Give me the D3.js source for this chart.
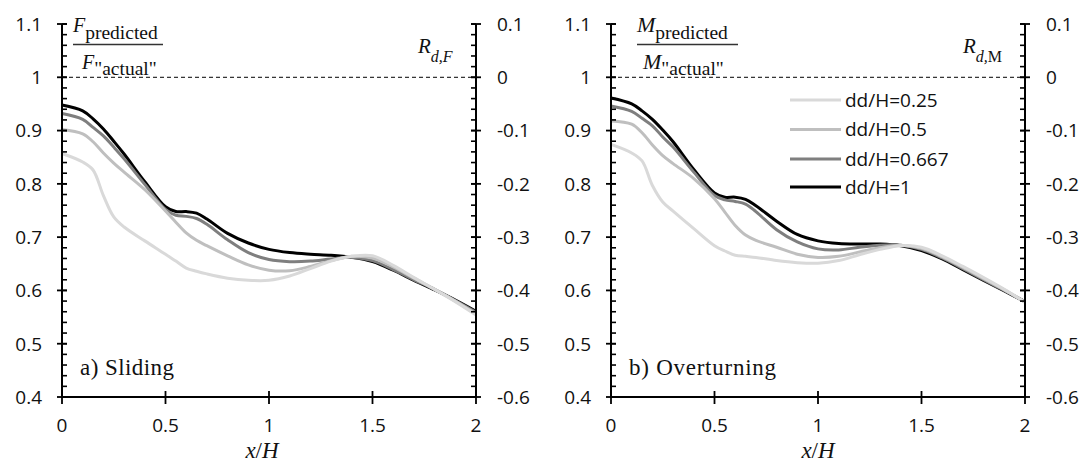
<!DOCTYPE html>
<html><head><meta charset="utf-8">
<script src="https://cdn.jsdelivr.net/npm/d3@7"></script>
<style>
html,body{margin:0;padding:0;background:#fff;}
svg{display:block;}
.num{font-family:"Open Sans",sans-serif;font-size:19px;fill:#111;}
.serif{font-family:"Liberation Serif","Times New Roman",serif;fill:#111;}
</style></head>
<body><svg id="c" width="1087" height="466"></svg>
<script>
// ---------- data ----------
const xVals = [0,0.1,0.15,0.2,0.25,0.3,0.4,0.5,0.55,0.6,0.65,0.7,0.8,0.9,1.0,1.1,1.2,1.3,1.4,1.5,1.6,1.7,1.8,1.9,2.0];
const seriesNames = ["dd/H=0.25","dd/H=0.5","dd/H=0.667","dd/H=1"];
const seriesColors = ["#d9d9d9","#bfbfbf","#7f7f7f","#000000"];

// a) Sliding
const slide025 = [0.857,0.841,0.826,0.778,0.738,0.719,0.693,0.668,0.655,0.642,0.636,0.631,0.623,0.619,0.619,0.627,0.641,0.655,0.664,0.665,0.647,0.624,0.602,0.579,0.554];
const slide05  = [0.902,0.894,0.879,0.858,0.839,0.822,0.789,0.749,0.728,0.708,0.694,0.684,0.665,0.648,0.638,0.637,0.645,0.656,0.664,0.661,0.644,0.623,0.602,0.580,0.556];
const slide0667= [0.932,0.921,0.906,0.890,0.869,0.847,0.799,0.752,0.741,0.739,0.735,0.724,0.695,0.671,0.658,0.654,0.655,0.659,0.662,0.656,0.639,0.620,0.602,0.581,0.559];
const slide1   = [0.948,0.937,0.922,0.903,0.880,0.856,0.804,0.757,0.748,0.748,0.745,0.734,0.707,0.689,0.677,0.671,0.668,0.666,0.662,0.654,0.638,0.619,0.601,0.582,0.561];

// b) Overturning
const over025 = [0.874,0.858,0.843,0.797,0.766,0.749,0.716,0.684,0.674,0.666,0.664,0.662,0.656,0.652,0.651,0.656,0.667,0.677,0.684,0.681,0.665,0.645,0.624,0.602,0.578];
const over05  = [0.918,0.912,0.896,0.873,0.853,0.838,0.810,0.772,0.747,0.722,0.704,0.694,0.681,0.668,0.662,0.664,0.672,0.680,0.685,0.679,0.663,0.643,0.622,0.601,0.578];
const over0667= [0.946,0.936,0.923,0.909,0.888,0.869,0.822,0.778,0.770,0.767,0.762,0.748,0.714,0.691,0.678,0.676,0.681,0.685,0.685,0.677,0.661,0.641,0.620,0.600,0.579];
const over1   = [0.961,0.950,0.937,0.921,0.901,0.879,0.827,0.783,0.775,0.775,0.771,0.759,0.730,0.705,0.693,0.688,0.687,0.687,0.684,0.675,0.659,0.639,0.619,0.599,0.579];

const xTicks = [0,0.5,1,1.5,2];
const xTickLabels = ["0","0.5","1","1.5","2"];
const yTicks = [0.4,0.5,0.6,0.7,0.8,0.9,1.0,1.1];
const yTickLabels = ["0.4","0.5","0.6","0.7","0.8","0.9","1","1.1"];
const y2Ticks = [-0.6,-0.5,-0.4,-0.3,-0.2,-0.1,0,0.1];
const y2TickLabels = ["-0.6","-0.5","-0.4","-0.3","-0.2","-0.1","0","0.1"];
const panelLabels = ["a) Sliding","b) Overturning"];

// ---------- drawing ----------
const svg = d3.select("#c");
svg.append("rect").attr("width",1087).attr("height",466).attr("fill","#fff");

const panels = [
  {x0:62, sym:"F", rsub:"F", rsubItalic:true, data:[slide025,slide05,slide0667,slide1], label:panelLabels[0], labelLen:94, xLabelX:262},
  {x0:611, sym:"M", rsub:"M", rsubItalic:false, data:[over025,over05,over0667,over1], label:panelLabels[1], labelLen:147, xLabelX:818}
];
const PW = 414, PTOP = 24, PBOT = 397;

panels.forEach((p,pi)=>{
  const g = svg.append("g");
  const x = d3.scaleLinear().domain([0,2]).range([p.x0, p.x0+PW]);
  const y = d3.scaleLinear().domain([0.4,1.1]).range([PBOT, PTOP]);
  const y2 = d3.scaleLinear().domain([-0.6,0.1]).range([PBOT, PTOP]);
  const xr = p.x0 + PW;

  // dashed reference line at 1
  g.append("line").attr("x1",x(0)).attr("x2",xr).attr("y1",y(1)).attr("y2",y(1))
    .attr("stroke","#000").attr("stroke-width",1).attr("stroke-dasharray","4,3");

  // series (light drawn last)
  const line = d3.line().x((d,i)=>x(xVals[i])).y(d=>y(d)).curve(d3.curveCatmullRom.alpha(0.5));
  [3,2,1,0].forEach(si=>{
    g.append("path").attr("d",line(p.data[si])).attr("fill","none")
      .attr("stroke",seriesColors[si]).attr("stroke-width",3).attr("stroke-linejoin","round");
  });

  // minor ticks
  const minor = d3.range(0.4,1.1001,0.02).map(v=>+v.toFixed(2));
  minor.forEach(v=>{
    g.append("line").attr("x1",x(0)).attr("x2",x(0)+5).attr("y1",y(v)).attr("y2",y(v)).attr("stroke","#000").attr("stroke-width",1.6);
    g.append("line").attr("x1",xr-5).attr("x2",xr).attr("y1",y(v)).attr("y2",y(v)).attr("stroke","#000").attr("stroke-width",1.6);
  });
  // major y ticks
  yTicks.forEach((v,i)=>{
    g.append("line").attr("x1",x(0)-5).attr("x2",x(0)+5).attr("y1",y(v)).attr("y2",y(v)).attr("stroke","#000").attr("stroke-width",1.8);
    g.append("text").attr("class","num").attr("x",x(0)-20).attr("y",y(v)).attr("dy","0.36em")
      .attr("text-anchor","end").text(yTickLabels[i]);
  });
  y2Ticks.forEach((v,i)=>{
    g.append("line").attr("x1",xr-5).attr("x2",xr+5).attr("y1",y2(v)).attr("y2",y2(v)).attr("stroke","#000").attr("stroke-width",1.8);
    g.append("text").attr("class","num").attr("x",xr+21).attr("y",y2(v)).attr("dy","0.36em")
      .attr("text-anchor","start").text(y2TickLabels[i]);
  });
  // x ticks
  xTicks.forEach((v,i)=>{
    g.append("line").attr("x1",x(v)).attr("x2",x(v)).attr("y1",PBOT-6).attr("y2",PBOT+7).attr("stroke","#000").attr("stroke-width",1.8);
    g.append("text").attr("class","num").attr("x",x(v)).attr("y",432).attr("text-anchor","middle").text(xTickLabels[i]);
  });
  // axis lines
  g.append("line").attr("x1",x(0)).attr("x2",x(0)).attr("y1",PTOP).attr("y2",PBOT).attr("stroke","#000").attr("stroke-width",2);
  g.append("line").attr("x1",xr).attr("x2",xr).attr("y1",PTOP).attr("y2",PBOT).attr("stroke","#000").attr("stroke-width",2);
  g.append("line").attr("x1",x(0)).attr("x2",xr).attr("y1",PBOT).attr("y2",PBOT).attr("stroke","#000").attr("stroke-width",2);

  // x axis title
  const xt = g.append("text").attr("class","serif").attr("x",p.xLabelX).attr("y",458)
    .attr("text-anchor","middle").style("font-size","23px").style("font-style","italic");
  xt.append("tspan").text("x");
  xt.append("tspan").style("font-style","normal").text("/");
  xt.append("tspan").text("H");

  // panel label
  g.append("text").attr("class","serif").attr("x",p.x0+18).attr("y",375)
    .style("font-size","23px").attr("textLength",p.labelLen).attr("lengthAdjust","spacing").text(p.label);

  // fraction
  const fx = p.x0 + (pi===0?11:26);
  const num = g.append("text").attr("class","serif").attr("x",fx).attr("y",31.5);
  num.append("tspan").style("font-style","italic").style("font-size",pi===0?"20px":"22px").text(p.sym);
  num.append("tspan").style("font-size","19.5px").attr("dy",7).text("predicted");
  const barW = pi===0?90:101;
  g.append("line").attr("x1",fx).attr("x2",fx+barW).attr("y1",44.5).attr("y2",44.5).attr("stroke","#333").attr("stroke-width",1.3);
  const den = g.append("text").attr("class","serif").attr("x",fx+(pi===0?9:6)).attr("y",69);
  den.append("tspan").style("font-style","italic").style("font-size",pi===0?"20px":"22px").text(p.sym);
  den.append("tspan").style("font-size","19.5px").attr("dy",6).text("\"actual\"");

  // R label
  const rl = g.append("text").attr("class","serif").attr("x",xr-(pi===0?58:62)).attr("y",53);
  rl.append("tspan").style("font-style","italic").style("font-size","21px").text("R");
  rl.append("tspan").style("font-style","italic").style("font-size","16px").attr("dy",9).text("d,");
  rl.append("tspan").style("font-style",p.rsubItalic?"italic":"normal").style("font-size","16px").text(p.rsub);

  // legend (panel b)
  if(pi===1){
    const ly = [100,129.5,159,187];
    seriesNames.forEach((nm,i)=>{
      g.append("line").attr("x1",790).attr("x2",841).attr("y1",ly[i]).attr("y2",ly[i])
        .attr("stroke",seriesColors[i]).attr("stroke-width",3);
      g.append("text").attr("class","num").attr("x",845).attr("y",ly[i]).attr("dy","0.36em").text(nm);
    });
  }
});
</script></body></html>
